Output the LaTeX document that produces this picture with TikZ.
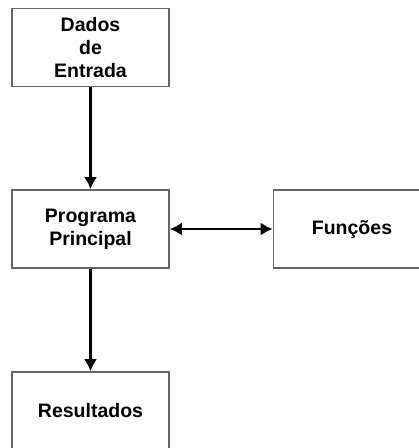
\documentclass[tikz,border=0pt]{standalone}
\usepackage{fontspec}
\setmainfont{Liberation Sans}
\usetikzlibrary{arrows.meta}
\tikzset{
  caixa/.style={draw=black!60, line width=1.6pt, minimum width=157pt, minimum height=78pt,
    align=center, font=\fontsize{19.5}{23}\selectfont\bfseries},
  seta/.style={line width=2.6pt, -{Latex[length=12pt,width=13pt]}}
}
\begin{document}
\begin{tikzpicture}[x=1pt, y=-1pt]
\useasboundingbox (0,0) rectangle (419,448);
\node[caixa](entrada) at (90.5,47.5){Dados\\de\\Entrada};
\node[caixa](principal) at (90.5,229){Programa\\Principal};
\node[caixa](funcoes) at (352,229){Funções};
\node[caixa](resultados) at (90.5,411){Resultados};

\draw[seta](entrada)--(principal);
\draw[seta](principal)--(resultados);
\draw[seta, {Latex[length=12pt,width=13pt]}-{Latex[length=12pt,width=13pt]}](principal)--(funcoes);
\end{tikzpicture}
\end{document}
